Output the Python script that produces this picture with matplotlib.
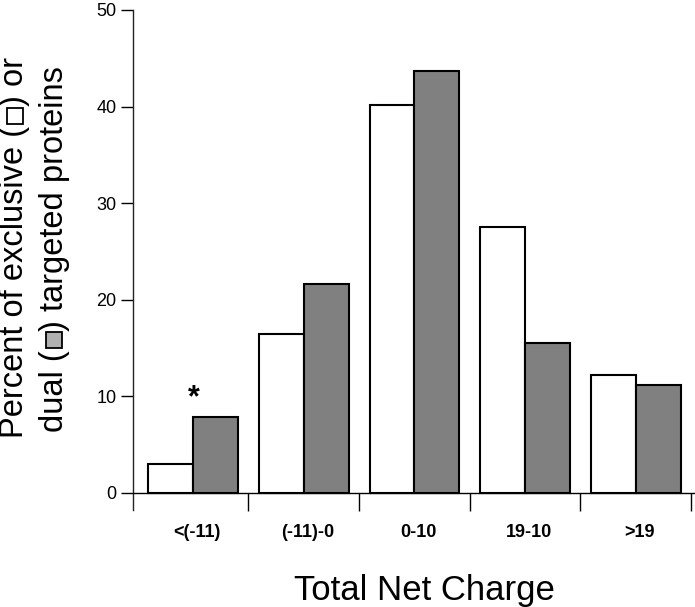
import matplotlib
matplotlib.use("Agg")
import matplotlib.pyplot as plt
from matplotlib.lines import Line2D
from matplotlib.transforms import offset_copy
import numpy as np

categories = ["<(-11)", "(-11)-0", "0-10", "19-10", ">19"]
exclusive = [3.0, 16.5, 40.2, 27.5, 12.2]
dual = [7.9, 21.6, 43.7, 15.5, 11.2]
yticks = [0, 10, 20, 30, 40, 50]
star_index = 0
star_value = 9.0

FONT = ["Liberation Sans", "DejaVu Sans"]
plt.rcParams["font.family"] = FONT

W, H = 695, 607
fig = plt.figure(figsize=(W / 100, H / 100), dpi=100)
ax = fig.add_axes([133 / W, 1 - 510 / H, (695 - 133) / W, (510 - 10) / H])

x = np.arange(len(categories))
bw = 0.405
ax.bar(x - bw / 2, exclusive, bw, color="white", edgecolor="black", linewidth=1.5, zorder=3)
ax.bar(x + bw / 2, dual, bw, color="#808080", edgecolor="black", linewidth=1.5, zorder=3)

ax.text(x[star_index] + 0.01, star_value, "*", ha="center", va="baseline",
        fontsize=22, fontweight="bold", family=FONT)

ax.set_xlim(-0.542, 4.535)
ax.set_ylim(-1.76, 50)

for s in ["top", "right"]:
    ax.spines[s].set_visible(False)
ax.spines["bottom"].set_position(("data", 0))
ax.spines["bottom"].set_linewidth(1.0)
ax.spines["left"].set_linewidth(1.0)
ax.spines["left"].set_color("#222222")

ax.set_yticks(yticks)
ax.set_yticklabels([str(v) for v in yticks], fontsize=13)
ax.tick_params(axis="y", direction="out", length=9, width=1, pad=3)

ax.set_xticks(x)
ax.set_xticklabels(categories, fontsize=13, fontweight="bold")
ax.tick_params(axis="x", which="major", length=0, pad=22)
for lab in ax.get_xticklabels():
    lab.set_transform(offset_copy(lab.get_transform(), fig=fig, x=4, y=0, units="dots"))
ax.set_xticks(np.arange(0.5, len(categories), 1.0), minor=True)
ax.tick_params(axis="x", which="minor", direction="out", length=13, width=1)

# X label
fig.text(424.5 / W, (H - 600) / H, "Total Net Charge", ha="center", va="baseline",
         fontsize=25)

# Y label built from pieces with drawn legend boxes
renderer = fig.canvas.get_renderer()
ysize = 23.5
em = ysize * 100 / 72


def place_line(before, after, box_face, x_base, y_bottom, box_off):
    y = H - y_bottom
    t1 = fig.text(x_base / W, y / H, before, rotation=90, rotation_mode="anchor",
                  ha="left", va="baseline", fontsize=ysize)
    y += t1.get_window_extent(renderer).height
    gap = 0.6 * em
    fig.add_artist(Line2D([(x_base - box_off * em) / W], [(y + gap / 2) / H],
                          marker="s", markersize=11.5, markerfacecolor=box_face,
                          markeredgecolor="black", markeredgewidth=1.3,
                          linestyle="none", transform=fig.transFigure))
    y += gap
    fig.text(x_base / W, y / H, after, rotation=90, rotation_mode="anchor",
             ha="left", va="baseline", fontsize=ysize)


place_line("Percent of exclusive (", ") or", "white", 23, 438, 0.26)
place_line("dual (", ") targeted proteins", "#b0b0b0", 63, 432, 0.28)

fig.savefig("out.png", dpi=100)
